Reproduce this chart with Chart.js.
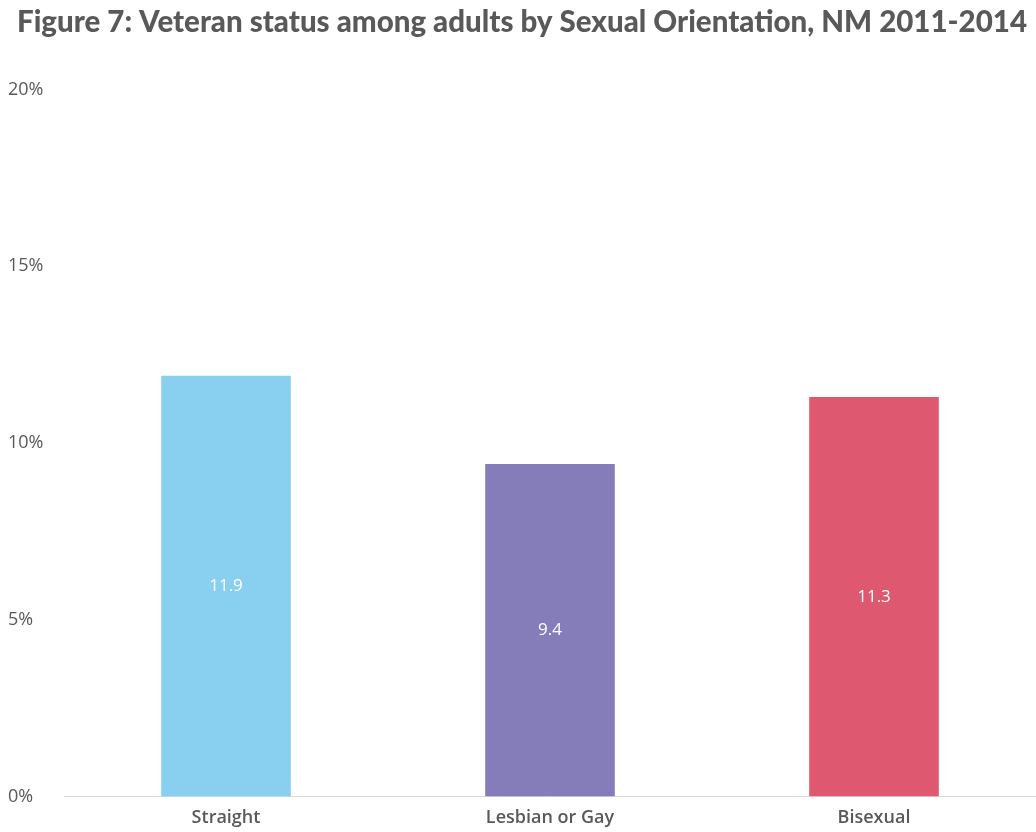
<!DOCTYPE html>
<html>
<head>
<meta charset="utf-8">
<title>Veteran status by Sexual Orientation</title>
<script src="https://cdn.jsdelivr.net/npm/chart.js@4/dist/chart.umd.min.js"></script>
<style>
  html, body { margin: 0; padding: 0; background: #fff; }
  #wrap { width: 1036px; height: 832px; position: relative; }
</style>
</head>
<body>
<div id="wrap"><canvas id="chart"></canvas></div>
<script>
// veteran share (%) per group
var groups = ['Straight', 'Lesbian or Gay', 'Bisexual'];
var veteranPct = [11.9, 9.4, 11.3];
var barColors = ['#89CFF0', '#857CBA', '#DE5870'];
var yTicks = [0, 5, 10, 15, 20];

// writes the value in the middle of each bar
var barValues = {
    id: 'barValues',
    afterDatasetsDraw: function (chart) {
        var ctx = chart.ctx;
        var meta = chart.getDatasetMeta(0);
        ctx.save();
        ctx.fillStyle = '#ffffff';
        ctx.font = '500 17px "Open Sans", sans-serif';
        ctx.textAlign = 'center';
        ctx.textBaseline = 'middle';
        meta.data.forEach(function (bar, i) {
            var mid = (bar.y + bar.base) / 2;
            ctx.fillText(veteranPct[i].toFixed(1), bar.x, mid);
        });
        ctx.restore();
    }
};

var ctx = document.getElementById('chart').getContext('2d');
var chart = new Chart(ctx, {
    type: 'bar',
    data: {
        labels: groups,
        datasets: [{
            data: veteranPct,
            backgroundColor: barColors,
            borderWidth: 0,
            barPercentage: 0.4,
            categoryPercentage: 1.0
        }]
    },
    options: {
        responsive: true,
        maintainAspectRatio: false,
        animation: false,
        layout: { padding: { left: 8, right: 0, top: 0, bottom: 0 } },
        plugins: {
            legend: { display: false },
            tooltip: { enabled: false },
            title: {
                display: true,
                text: 'Figure 7: Veteran status among adults by Sexual Orientation, NM 2011-2014',
                color: '#595959',
                font: { family: 'Lato', size: 29.5, weight: '900' },
                padding: { top: 5, bottom: 49 }
            }
        },
        scales: {
            x: {
                grid: { display: false },
                border: { display: true, color: '#d9d9d9', width: 1 },
                ticks: {
                    color: '#595959',
                    font: { family: 'Open Sans', size: 18, weight: '600' },
                    padding: 3
                }
            },
            y: {
                min: 0,
                max: 20,
                afterFit: function (scale) { scale.width = 56; },
                afterBuildTicks: function (scale) {
                    scale.ticks = yTicks.map(function (v) { return { value: v }; });
                },
                grid: { display: false },
                border: { display: false },
                ticks: {
                    color: '#595959',
                    crossAlign: 'far',
                    font: { family: 'Open Sans', size: 18 },
                    callback: function (v) { return v + '%'; }
                }
            }
        }
    },
    plugins: [barValues]
});
</script>
</body>
</html>
